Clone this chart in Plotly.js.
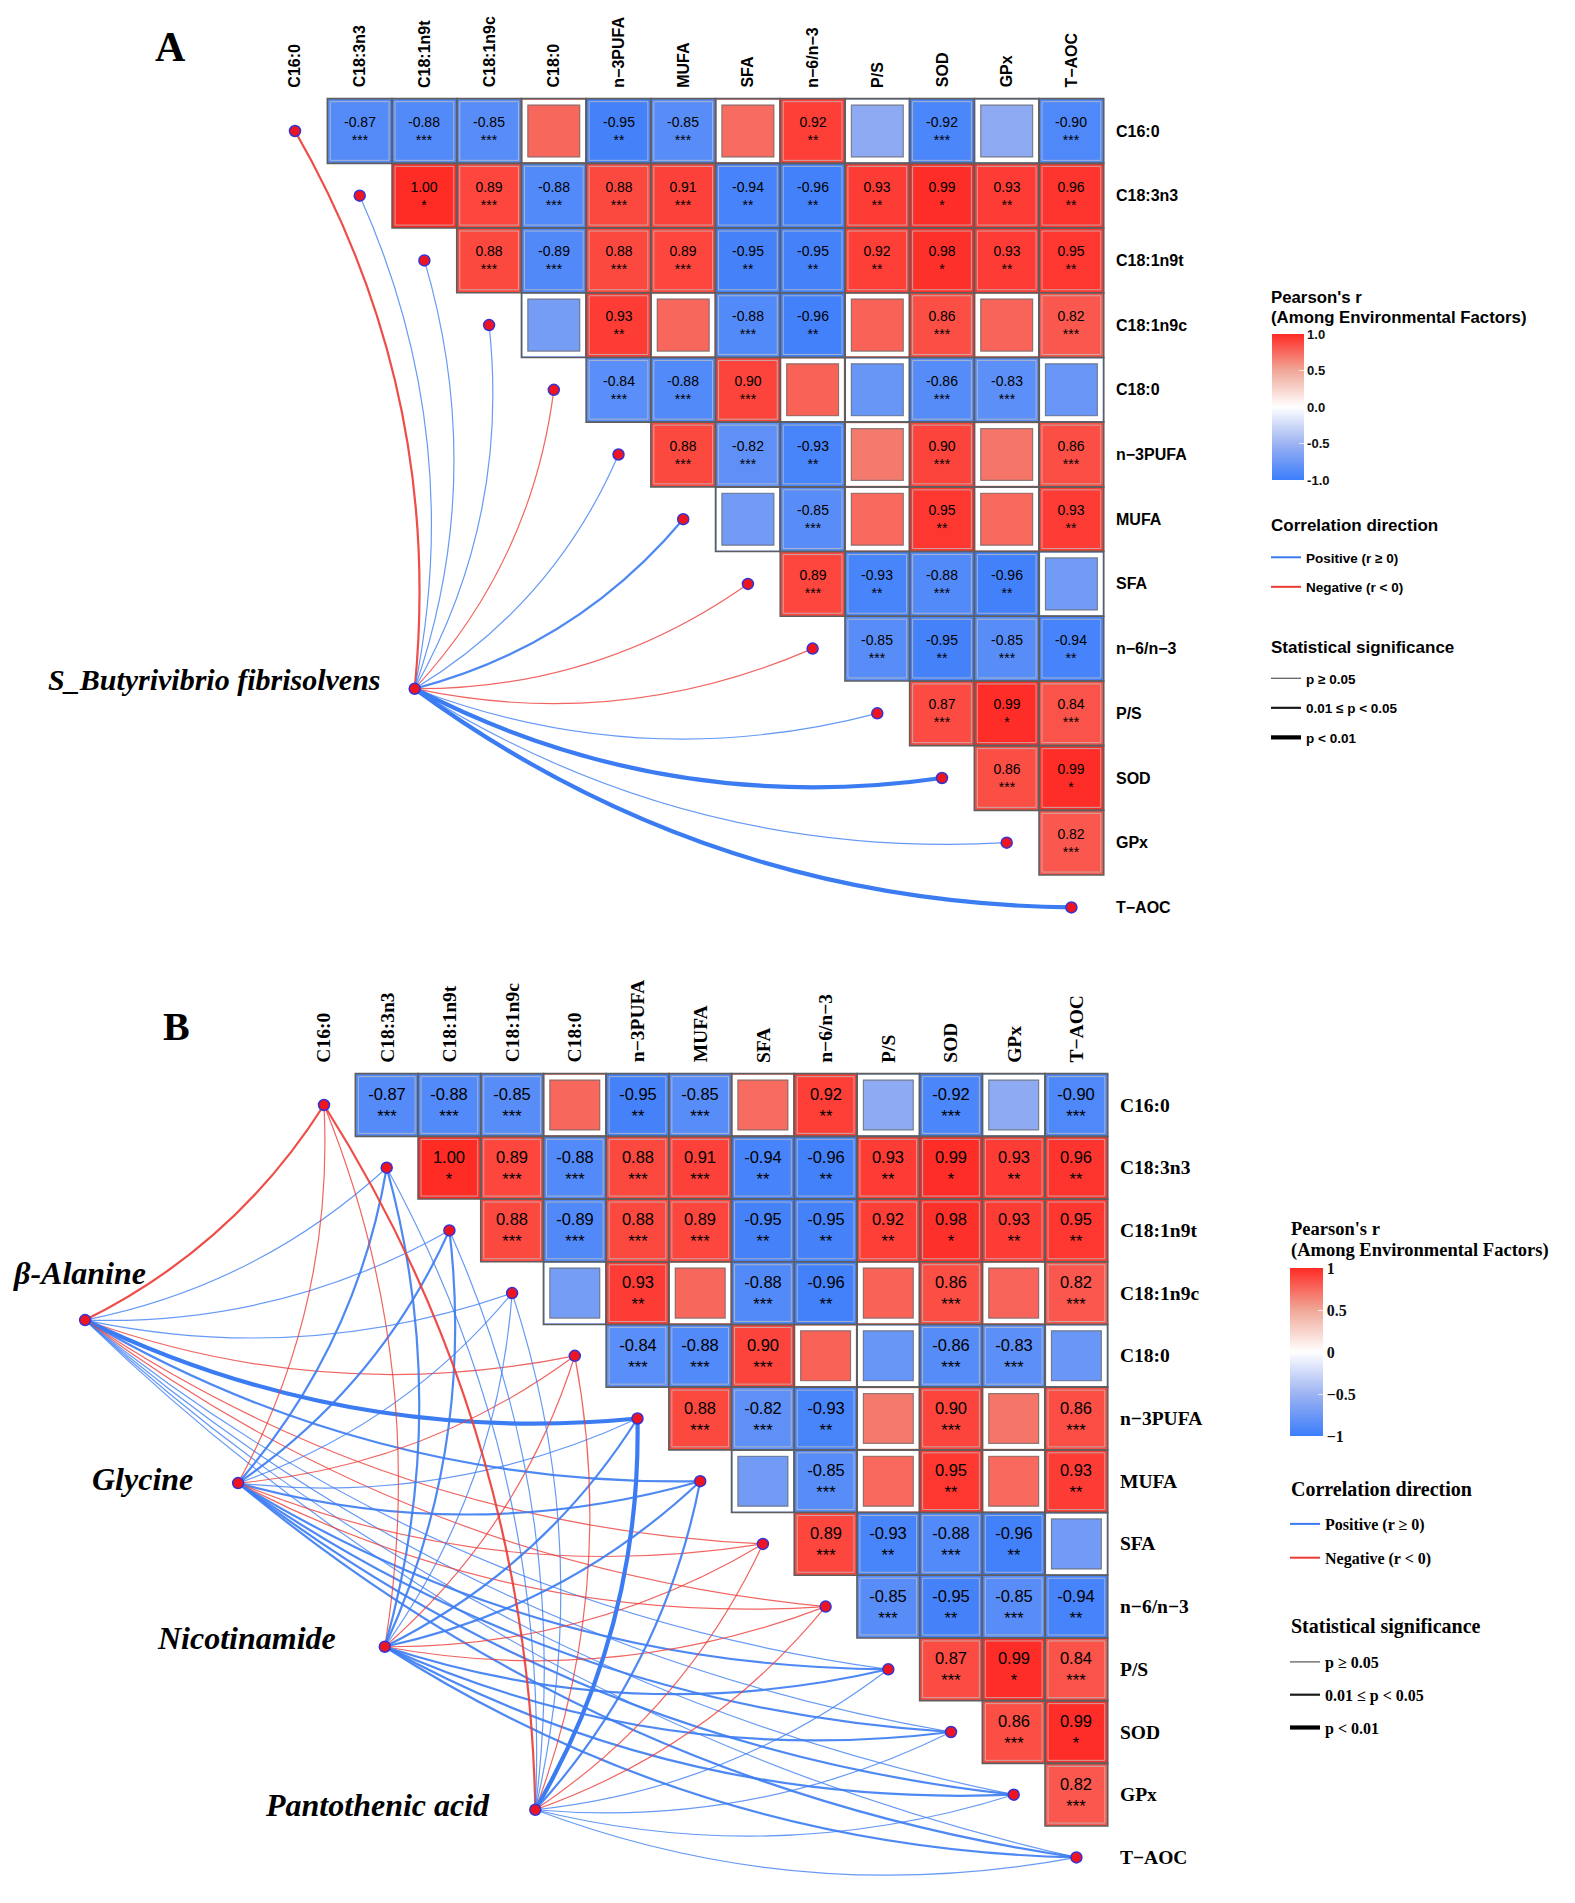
<!DOCTYPE html>
<html>
<head>
<meta charset="utf-8">
<script src="https://cdn.plot.ly/plotly-3.0.1.min.js"></script>
<style>body{margin:0;background:#fff}</style>
</head>
<body>
<div id="plot" style="width:1575px;height:1903px"></div>
<script>
// environmental factors (rows / columns of the triangle)
var factors = ['C16:0', 'C18:3n3', 'C18:1n9t', 'C18:1n9c', 'C18:0', 'n\u22123PUFA', 'MUFA', 'SFA',
               'n\u22126/n\u22123', 'P/S', 'SOD', 'GPx', 'T\u2212AOC'];

// Pearson's r, upper triangle row by row (row i holds columns i+1 .. 12)
var rRows = [
  [-0.87, -0.88, -0.85, 0.76, -0.95, -0.85, 0.74, 0.92, -0.58, -0.92, -0.58, -0.90],
  [1.00, 0.89, -0.88, 0.88, 0.91, -0.94, -0.96, 0.93, 0.99, 0.93, 0.96],
  [0.88, -0.89, 0.88, 0.89, -0.95, -0.95, 0.92, 0.98, 0.93, 0.95],
  [-0.70, 0.93, 0.76, -0.88, -0.96, 0.78, 0.86, 0.77, 0.82],
  [-0.84, -0.88, 0.90, 0.78, -0.77, -0.86, -0.83, -0.76],
  [0.88, -0.82, -0.93, 0.68, 0.90, 0.70, 0.86],
  [-0.72, -0.85, 0.75, 0.95, 0.75, 0.93],
  [0.89, -0.93, -0.88, -0.96, -0.72],
  [-0.85, -0.95, -0.85, -0.94],
  [0.87, 0.99, 0.84],
  [0.86, 0.99],
  [0.82]
];
// significance marks ('' = not labelled)
var starRows = [
  ['***', '***', '***', '', '**', '***', '', '**', '', '***', '', '***'],
  ['*', '***', '***', '***', '***', '**', '**', '**', '*', '**', '**'],
  ['***', '***', '***', '***', '**', '**', '**', '*', '**', '**'],
  ['', '**', '', '***', '**', '', '***', '', '***'],
  ['***', '***', '***', '', '', '***', '***', ''],
  ['***', '***', '**', '', '***', '', '***'],
  ['', '***', '', '**', '', '**'],
  ['***', '**', '***', '**', ''],
  ['***', '**', '***', '**'],
  ['***', '*', '***'],
  ['***', '*'],
  ['***']
];

// panel A: microbe -> factor links (sign of r, p level 0: p>=0.05, 1: 0.01<=p<0.05, 2: p<0.01)
var microbeA = 'S_Butyrivibrio fibrisolvens';
var signA   = [-1, 1, 1, 1, -1, 1, 1, -1, -1, 1, 1, 1, 1];
var pLevelA = [1, 0, 0, 0, 0, 0, 1, 0, 0, 0, 2, 0, 2];

// panel B: metabolite -> factor links
var metabolites = ['\u03b2-Alanine', 'Glycine', 'Nicotinamide', 'Pantothenic acid'];
var signB = [
  [-1, 1, 1, 1, -1, 1, 1, -1, -1, 1, 1, 1, 1],
  [-1, 1, 1, 1, -1, 1, 1, -1, -1, 1, 1, 1, 1],
  [-1, 1, 1, 1, -1, 1, 1, -1, -1, 1, 1, 1, 1],
  [-1, 1, 1, 1, -1, 1, 1, -1, -1, 1, 1, 1, 1]
];
var pLevelB = [
  [1, 0, 0, 0, 0, 2, 1, 0, 0, 0, 0, 0, 0],
  [0, 1, 1, 0, 0, 0, 1, 0, 0, 1, 1, 1, 1],
  [0, 1, 1, 0, 0, 1, 1, 0, 0, 1, 1, 1, 1],
  [1, 0, 0, 0, 0, 2, 1, 0, 0, 0, 0, 0, 0]
];

var corTicks = [1, 0.5, 0, -0.5, -1];
var corTickTextA = ['1.0', '0.5', '0.0', '-0.5', '-1.0'];
var corTickTextB = ['1', '0.5', '0', '\u22120.5', '\u22121'];
var dirNames = ['Positive (r \u2265 0)', 'Negative (r < 0)'];
var sigNames = ['p \u2265 0.05', '0.01 \u2264 p < 0.05', 'p < 0.01'];

// ---- layout geometry (pixels) ----
var W = 1575, H = 1903, SPLIT = 960;
var PA = {x0: 295, y0: 131, cell: 64.7, curv: 0.16};
var PB = {x0: 324, y0: 1105, cell: 62.7, curv: 0.14};
var srcA = [1.85, 8.62];
var srcB = [[-3.81, 3.43], [-1.37, 6.03], [0.97, 8.64], [3.37, 11.24]];
var labOffB = [[-6, -47, 'center'], [-43, -4, 'right'], [-47, -9, 'right'], [-43, -5, 'right']];

var SANS = 'Liberation Sans, Arial, sans-serif';
var SERIF = 'Liberation Serif, Times New Roman, serif';
var POS = [59, 124, 242], NEG = [236, 58, 52];
var widths = [1.2, 2.2, 4.2];
var alphas = [0.78, 0.9, 1];

var rScale = [[0, '#3B7DFB'], [0.25, '#9DB3F2'], [0.5, '#FFFFFF'], [0.75, '#F0A797'], [1, '#FF2B25']];

var n = factors.length;
var idx = factors.map(function (f, i) { return i; });

var zMat = [], textMat = [], sigMat = [];
for (var i = 0; i < n; i++) {
  var zr = [], tr = [], sr = [];
  for (var j = 0; j < n; j++) {
    if (j > i) {
      var v = rRows[i][j - i - 1], s = starRows[i][j - i - 1];
      zr.push(v);
      tr.push(s ? v.toFixed(2) + '<br>' + s : '');
      sr.push(s !== '');
    } else { zr.push(null); tr.push(''); sr.push(null); }
  }
  zMat.push(zr); textMat.push(tr); sigMat.push(sr);
}

function rgba(c, a) { return 'rgba(' + c[0] + ',' + c[1] + ',' + c[2] + ',' + a + ')'; }

function heat(xa, ya, fam, size, cb) {
  return {
    type: 'heatmap', x: idx, y: idx, z: zMat, text: textMat, texttemplate: '%{text}',
    textfont: {family: fam, size: size, color: '#000'},
    colorscale: rScale, zmin: -1, zmax: 1, xgap: 0, ygap: 0,
    hoverinfo: 'skip', xaxis: xa, yaxis: ya, colorbar: cb
  };
}

function curve(s, t, c) {
  var dx = t[0] - s[0], dy = t[1] - s[1];
  var cx = (s[0] + t[0]) / 2 - c * dy, cy = (s[1] + t[1]) / 2 + c * dx;
  return 'M ' + s[0] + ',' + s[1] + ' Q ' + cx + ',' + cy + ' ' + t[0] + ',' + t[1];
}

var shapes = [];
function cellShapes(xr, yr, cell) {
  var ring = 3.6 / cell, inner = 6.4 / cell, edge = 1.5 / cell;
  for (var i = 0; i < n; i++) {
    for (var j = i + 1; j < n; j++) {
      if (!sigMat[i][j]) {
        shapes.push({type: 'rect', xref: xr, yref: yr, x0: j - 0.5 + ring, x1: j + 0.5 - ring,
          y0: i - 0.5 + ring, y1: i + 0.5 - ring, line: {color: '#fff', width: 5}, layer: 'above'});
        shapes.push({type: 'rect', xref: xr, yref: yr, x0: j - 0.5 + inner, x1: j + 0.5 - inner,
          y0: i - 0.5 + inner, y1: i + 0.5 - inner, line: {color: 'rgba(110,110,110,0.75)', width: 1.2}, layer: 'above'});
      } else {
        shapes.push({type: 'rect', xref: xr, yref: yr, x0: j - 0.5 + edge * 2, x1: j + 0.5 - edge * 2,
          y0: i - 0.5 + edge * 2, y1: i + 0.5 - edge * 2, line: {color: 'rgba(190,190,190,0.8)', width: 1}, layer: 'above'});
      }
      shapes.push({type: 'rect', xref: xr, yref: yr, x0: j - 0.5, x1: j + 0.5, y0: i - 0.5, y1: i + 0.5,
        line: {color: '#5e5e5e', width: 1.6}, layer: 'above'});
    }
  }
}
cellShapes('x', 'y', PA.cell);
cellShapes('x2', 'y2', PB.cell);

function edge(xr, yr, s, k, sign, lvl, c) {
  shapes.push({type: 'path', xref: xr, yref: yr, path: curve(s, [k, k], c), layer: 'below',
    line: {color: rgba(sign > 0 ? POS : NEG, alphas[lvl]), width: widths[lvl]}});
}
for (var k = 0; k < n; k++) edge('x', 'y', srcA, k, signA[k], pLevelA[k], PA.curv);
for (var m = 0; m < metabolites.length; m++) {
  for (var k2 = 0; k2 < n; k2++) edge('x2', 'y2', srcB[m], k2, signB[m][k2], pLevelB[m][k2], PB.curv);
}

var nodeMarker = {size: 11, color: '#EE1420', line: {color: '#3434D6', width: 1.5}};
var traces = [
  heat('x', 'y', SANS, 14, {
    x: 1272 / W, xanchor: 'left', xpad: 0, y: 1 - 334 / H, yanchor: 'top', ypad: 0,
    len: 146, lenmode: 'pixels', thickness: 32, outlinewidth: 0,
    tickvals: corTicks, ticktext: corTickTextA, ticks: 'inside', ticklen: 5, tickcolor: 'rgba(255,255,255,0.7)',
    tickfont: {family: SANS, size: 13, weight: 'bold', color: '#111'}
  }),
  heat('x2', 'y2', SANS, 16.5, {
    x: 1290 / W, xanchor: 'left', xpad: 0, y: 1 - 1268 / H, yanchor: 'top', ypad: 0,
    len: 168, lenmode: 'pixels', thickness: 33, outlinewidth: 0,
    tickvals: corTicks, ticktext: corTickTextB, ticks: 'inside', ticklen: 5, tickcolor: 'rgba(255,255,255,0.7)',
    tickfont: {family: SERIF, size: 16, weight: 'bold', color: '#111'}
  }),
  {type: 'scatter', mode: 'markers', x: idx.concat([srcA[0]]), y: idx.concat([srcA[1]]),
   marker: nodeMarker, xaxis: 'x', yaxis: 'y', hoverinfo: 'skip', showlegend: false},
  {type: 'scatter', mode: 'markers', x: idx.concat(srcB.map(function (p) { return p[0]; })),
   y: idx.concat(srcB.map(function (p) { return p[1]; })),
   marker: nodeMarker, xaxis: 'x2', yaxis: 'y2', hoverinfo: 'skip', showlegend: false}
];

function legendTrace(name, color, width, lg, grp, xa, ya) {
  return {type: 'scatter', mode: 'lines', x: [null], y: [null], name: name, legend: lg, legendgroup: grp,
    line: {color: color, width: width}, xaxis: xa, yaxis: ya, hoverinfo: 'skip', showlegend: true};
}
var sigColors = ['#555', '#1a1a1a', '#000'];
[['legend', 'legend2', 'x', 'y'], ['legend3', 'legend4', 'x2', 'y2']].forEach(function (L, p) {
  traces.push(legendTrace(dirNames[0], rgba(POS, 1), 2, L[0], 'd0' + p, L[2], L[3]));
  traces.push(legendTrace(dirNames[1], rgba(NEG, 1), 2, L[0], 'd1' + p, L[2], L[3]));
  sigNames.forEach(function (nm, q) {
    traces.push(legendTrace(nm, sigColors[q], widths[q], L[1], 's' + q + p, L[2], L[3]));
  });
});

function legendCfg(x, yTop, fam, isize, gap) {
  return {x: x / W, y: 1 - yTop / H, xanchor: 'left', yanchor: 'top', bgcolor: 'rgba(0,0,0,0)',
    font: {family: fam, size: isize, color: '#000', weight: 'bold'}, tracegroupgap: gap, itemwidth: 30};
}

var ann = [];
function note(x, y, text, fam, size, xanchor) {
  ann.push({xref: 'paper', yref: 'paper', x: x / W, y: 1 - y / H, text: '<b>' + text + '</b>', showarrow: false,
    xanchor: xanchor || 'left', yanchor: 'middle', font: {family: fam, size: size, color: '#000'}});
}
function addLabels(xr, yr, P, fam, size) {
  for (var i = 0; i < n; i++) {
    ann.push({xref: xr, yref: yr, x: i, y: -0.5 - 9 / P.cell, text: '<b>' + factors[i] + '</b>', textangle: -90,
      xanchor: 'center', yanchor: 'bottom', showarrow: false, font: {family: fam, size: size, color: '#000'}});
    ann.push({xref: xr, yref: yr, x: 12.5 + 10 / P.cell, y: i, text: '<b>' + factors[i] + '</b>',
      xanchor: 'left', yanchor: 'middle', showarrow: false, font: {family: fam, size: size, color: '#000'}});
  }
}
addLabels('x', 'y', PA, SANS, 16);
addLabels('x2', 'y2', PB, SERIF, 19.5);

ann.push({xref: 'x', yref: 'y', x: srcA[0] - 32 / PA.cell, y: srcA[1] - 9 / PA.cell, text: '<b><i>' + microbeA + '</i></b>',
  xanchor: 'right', yanchor: 'middle', showarrow: false, font: {family: SERIF, size: 30, color: '#000'}});
metabolites.forEach(function (mt, q) {
  var o = labOffB[q];
  ann.push({xref: 'x2', yref: 'y2', x: srcB[q][0] + o[0] / PB.cell, y: srcB[q][1] + o[1] / PB.cell,
    text: '<b><i>' + mt + '</i></b>', xanchor: o[2], yanchor: 'middle', showarrow: false,
    font: {family: SERIF, size: 32, color: '#000'}});
});
note(170, 47, 'A', SERIF, 42, 'center');
note(176, 1026, 'B', SERIF, 40, 'center');

// legend headings, panel A (sans) and panel B (serif)
note(1269, 298, "Pearson's r", SANS, 16.8);
note(1269, 317, '(Among Environmental Factors)', SANS, 16.8);
note(1269, 525, 'Correlation direction', SANS, 17);
note(1269, 647, 'Statistical significance', SANS, 17);
note(1289, 1229, "Pearson's r", SERIF, 18.5);
note(1289, 1250, '(Among Environmental Factors)', SERIF, 18.5);
note(1289, 1489, 'Correlation direction', SERIF, 20);
note(1289, 1626, 'Statistical significance', SERIF, 20);

function ax(range, domain, anchor) {
  return {range: range, domain: domain, anchor: anchor, visible: false, fixedrange: true,
    showgrid: false, zeroline: false};
}

var layout = {
  width: W, height: H, margin: {l: 0, r: 0, t: 0, b: 0},
  paper_bgcolor: '#fff', plot_bgcolor: 'rgba(0,0,0,0)', showlegend: true,
  xaxis: ax([-PA.x0 / PA.cell, (W - PA.x0) / PA.cell], [0, 1], 'y'),
  yaxis: ax([(SPLIT - PA.y0) / PA.cell, -PA.y0 / PA.cell], [1 - SPLIT / H, 1], 'x'),
  xaxis2: ax([-PB.x0 / PB.cell, (W - PB.x0) / PB.cell], [0, 1], 'y2'),
  yaxis2: ax([(H - PB.y0) / PB.cell, (SPLIT - PB.y0) / PB.cell], [0, 1 - SPLIT / H], 'x2'),
  legend: legendCfg(1266, 542, SANS, 13.5, 9),
  legend2: legendCfg(1266, 663, SANS, 13.5, 9),
  legend3: legendCfg(1285, 1507, SERIF, 16, 10),
  legend4: legendCfg(1285, 1645, SERIF, 16, 9),
  shapes: shapes,
  annotations: ann
};

Plotly.newPlot('plot', traces, layout, {displayModeBar: false, staticPlot: true});
</script>
</body>
</html>
